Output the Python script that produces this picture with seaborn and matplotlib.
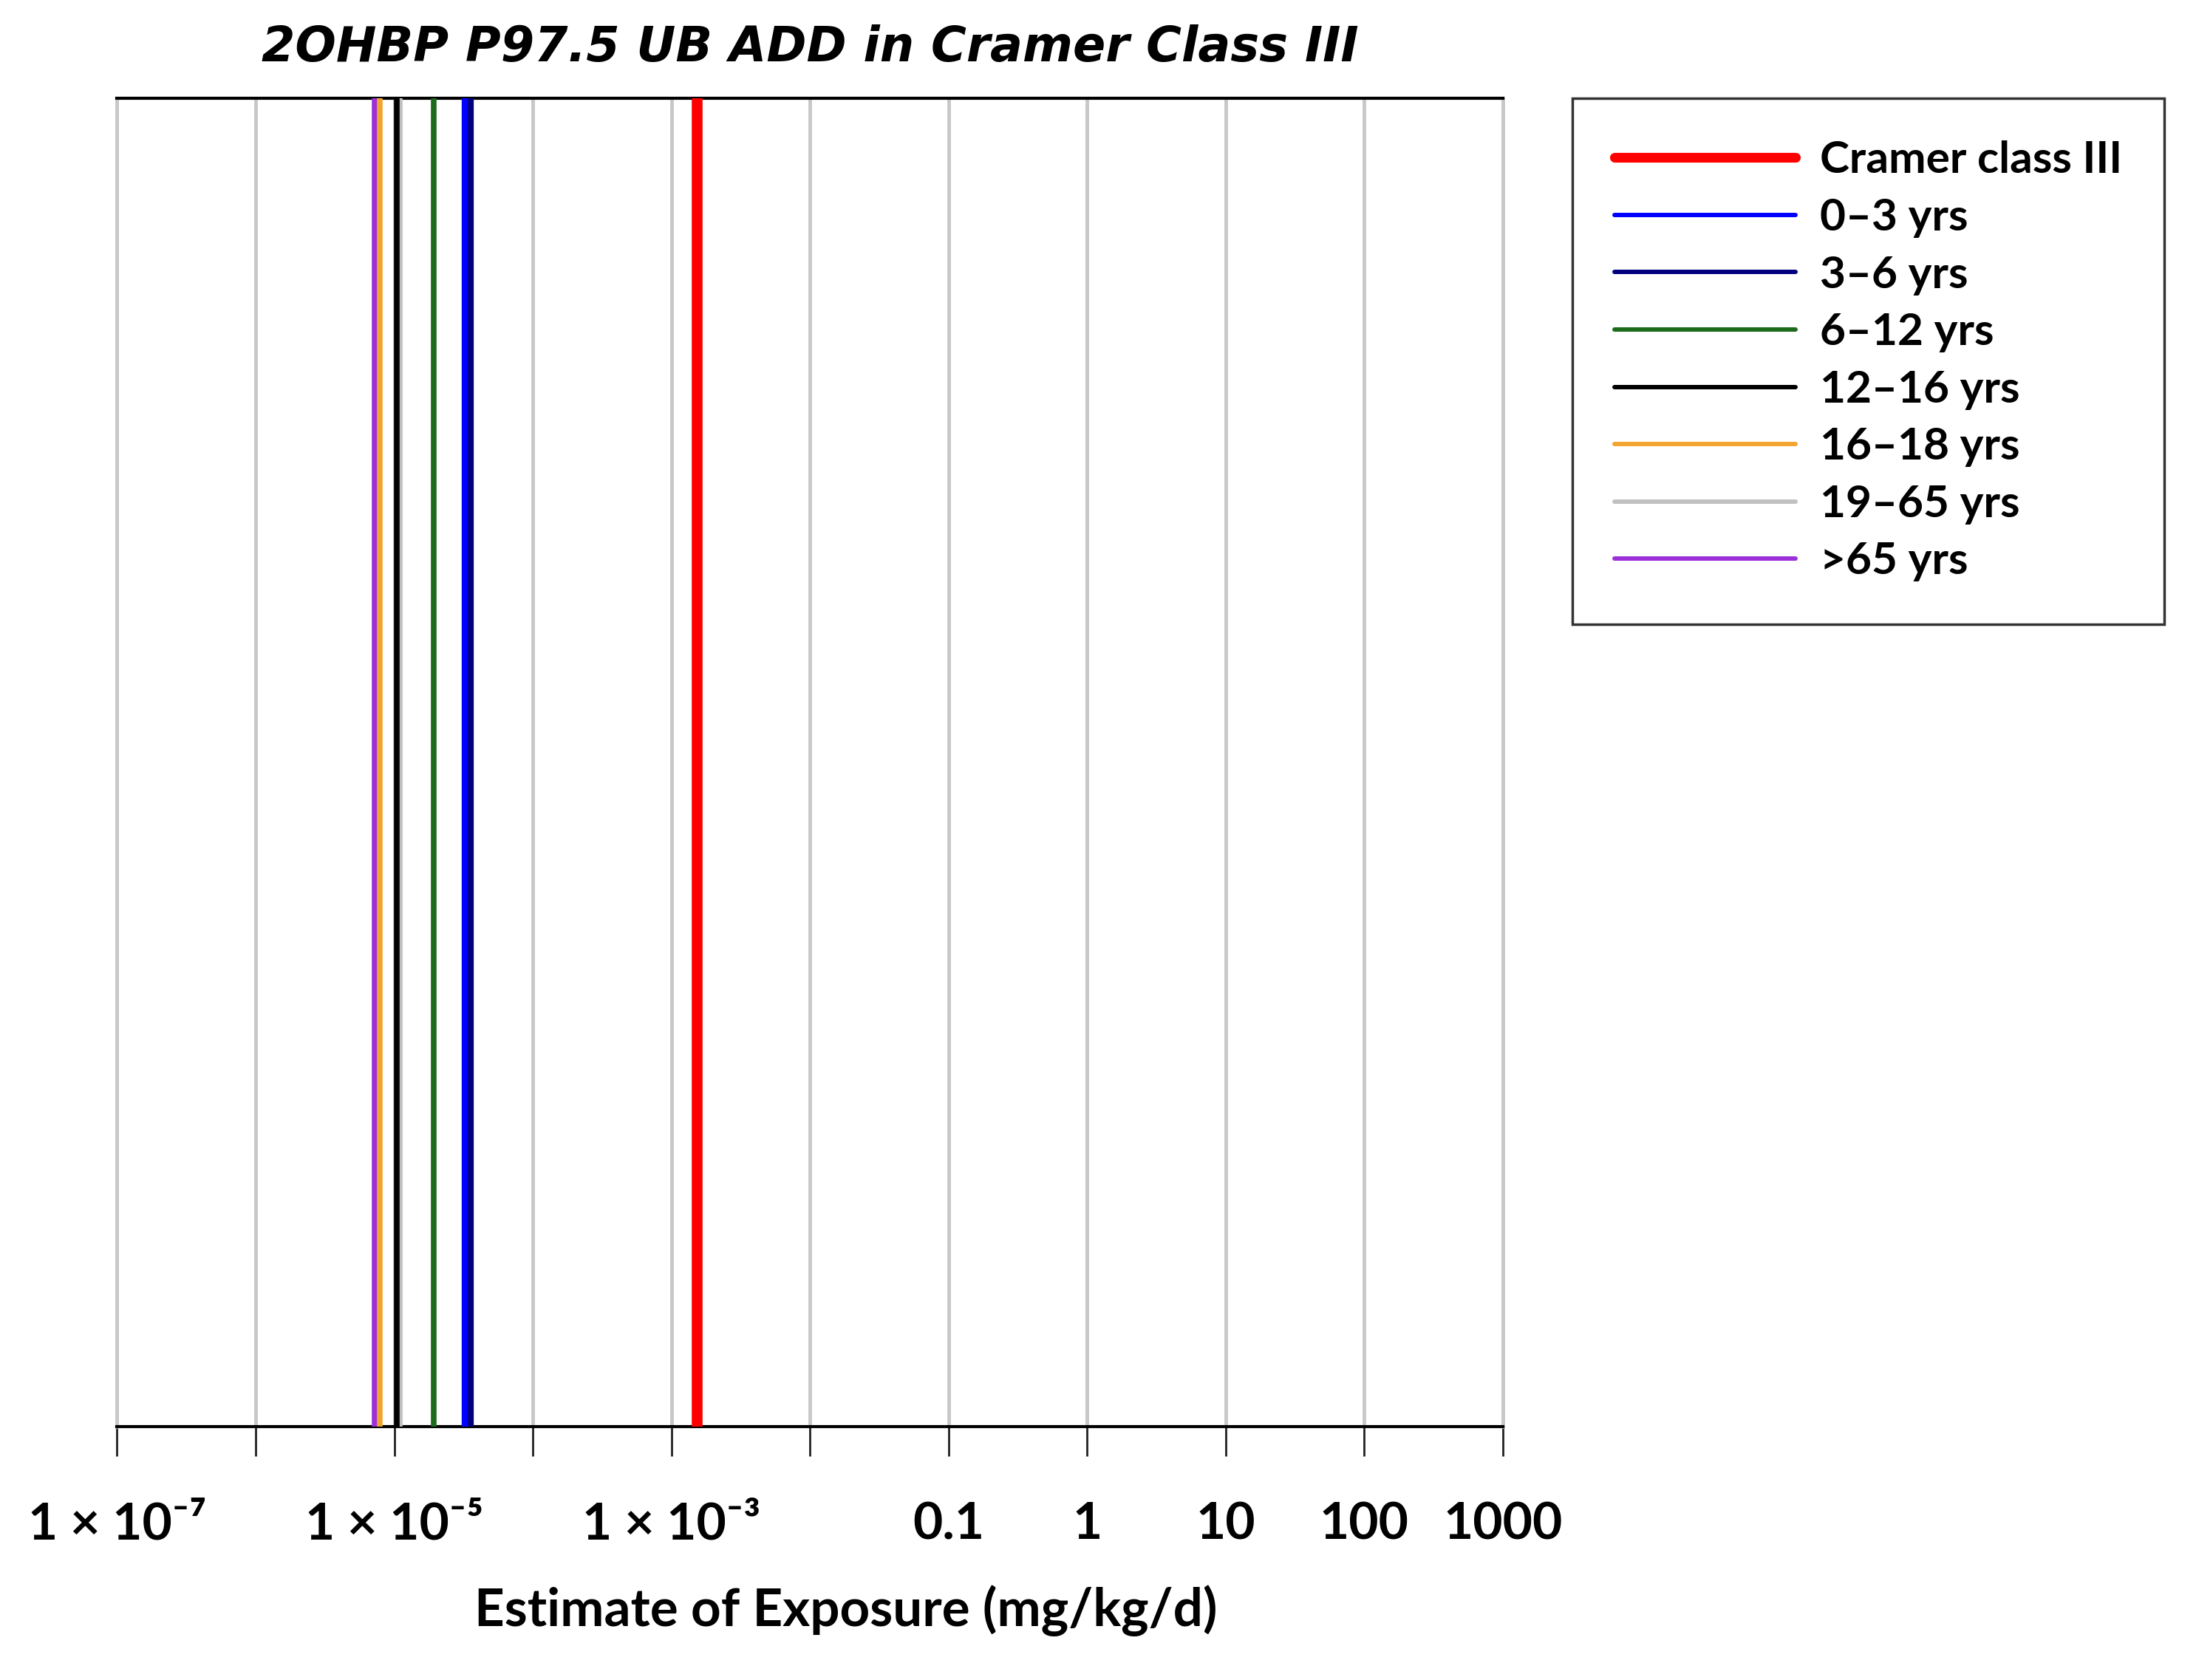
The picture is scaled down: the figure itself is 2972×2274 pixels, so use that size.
import matplotlib
matplotlib.use("Agg")
import matplotlib.pyplot as plt
import seaborn as sns
import pandas as pd
from matplotlib.ticker import FixedLocator, FixedFormatter
from matplotlib.lines import Line2D

# ---- data ----
groups = ["Cramer class III", "0\u20133 yrs", "3\u20136 yrs", "6\u201312 yrs",
          "12\u201316 yrs", "16\u201318 yrs", "19\u201365 yrs", ">65 yrs"]
values = [1.52e-3, 3.23e-5, 3.55e-5, 1.92e-5, 1.04e-5, 7.9e-6, 1.10e-5, 7.2e-6]
colors = ["#ff0000", "#0000ff", "#00007f", "#1b6b1b", "#000000", "#f2a52e", "#c0c0c0", "#9b30d9"]
tick_values = [1e-7, 1e-6, 1e-5, 1e-4, 1e-3, 1e-2, 0.1, 1, 10, 100, 1000]
tick_labels = ["1 \u00d7 10\u207b\u2077", "", "1 \u00d7 10\u207b\u2075", "", "1 \u00d7 10\u207b\u00b3", "",
               "0.1", "1", "10", "100", "1000"]
title = "2OHBP P97.5 UB ADD in Cramer Class III"
xlabel = "Estimate of Exposure (mg/kg/d)"

sns.set_theme(style="white")
plt.rcParams['font.family'] = ['Lato', 'DejaVu Sans']
plt.rcParams['text.color'] = 'black'
plt.rcParams['axes.labelcolor'] = 'black'
plt.rcParams['xtick.color'] = 'black'

rows = []
for g, v in zip(groups, values):
    rows.append({"group": g, "x": v, "y": 0.0})
    rows.append({"group": g, "x": v, "y": 1.0})
df = pd.DataFrame(rows)

fig = plt.figure(figsize=(29.72, 22.74), dpi=100)
ax = fig.add_axes([0.0533, 0.1508, 0.6311, 0.7907])

widths = {g: (10.5 if i == 0 else (6.0 if i in (1, 2) else 5.5)) for i, g in enumerate(groups)}
palette = dict(zip(groups, colors))

for g in reversed(groups):
    sub = df[df["group"] == g]
    sns.lineplot(data=sub, x="x", y="y", color=palette[g], linewidth=widths[g],
                 estimator=None, sort=False, ax=ax, legend=False, zorder=3)

ax.set_xscale("log")
ax.set_xlim(1e-7, 1000)
ax.set_ylim(0, 1)
ax.xaxis.set_major_locator(FixedLocator(tick_values))
ax.xaxis.set_major_formatter(FixedFormatter(tick_labels))
ax.xaxis.set_minor_locator(FixedLocator([]))
ax.set_yticks([])
ax.set_ylabel("")
ax.grid(axis="x", color="#c8c8c8", linewidth=3.5, zorder=1)
ax.set_axisbelow(True)
ax.tick_params(axis="x", which="major", direction="out", length=29, width=2, color="#222222",
               pad=44, labelsize=50, labelcolor="black", bottom=True)
for lbl in ax.get_xticklabels():
    lbl.set_fontweight("bold")
for s in ["top", "bottom"]:
    ax.spines[s].set_color("black")
    ax.spines[s].set_linewidth(3)
for s in ["left", "right"]:
    ax.spines[s].set_color("#c8c8c8")
    ax.spines[s].set_linewidth(3.5)

ax.set_xlabel(xlabel, fontsize=51, fontweight="bold", color="black")
ax.xaxis.set_label_coords(0.526, -0.119)
ax.set_title(title, fontsize=47, fontweight="bold", style="italic",
             family="DejaVu Sans", color="black", pad=36)

handles = [Line2D([0], [0], color=palette[g], linewidth=(9.5 if i == 0 else 4.3),
                  solid_capstyle="round") for i, g in enumerate(groups)]
leg = fig.legend(handles, groups, loc="upper left", bbox_to_anchor=(0.716, 0.9415),
                 borderaxespad=0, frameon=True, fancybox=False, handlelength=4.05,
                 handletextpad=0.54, labelspacing=0.39, borderpad=0.95,
                 prop={"weight": "bold", "size": 43.5})
for t in leg.get_texts():
    t.set_color("black")
leg.get_frame().set_edgecolor("black")
leg.get_frame().set_linewidth(2.5)

fig.savefig("out.png", dpi=100)
